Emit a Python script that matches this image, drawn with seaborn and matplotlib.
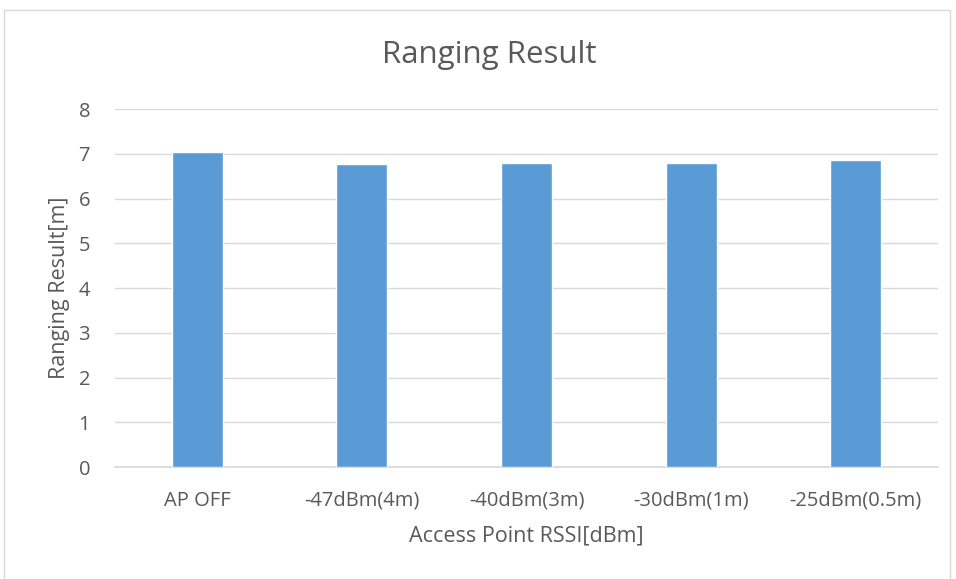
import matplotlib
matplotlib.use("Agg")
import matplotlib.pyplot as plt
import seaborn as sns
import pandas as pd
from matplotlib.patches import Rectangle

# data
categories = ["AP OFF", "-47dBm(4m)", "-40dBm(3m)", "-30dBm(1m)", "-25dBm(0.5m)"]
ranging = [7.03, 6.78, 6.80, 6.80, 6.87]
yticks = [0, 1, 2, 3, 4, 5, 6, 7, 8]

df = pd.DataFrame({"rssi": categories, "result": ranging})

sns.set_theme(style="white")
plt.rcParams["font.family"] = ["Open Sans", "DejaVu Sans"]
gray = "#595959"

fig = plt.figure(figsize=(9.56, 5.79), dpi=100)
ax = fig.add_axes([0.1203, 0.1934, 0.861, 0.6183])

sns.barplot(data=df, x="rssi", y="result", color="#5b9bd5", width=0.31,
            saturation=1, ax=ax, zorder=3)

ax.set_ylim(0, 8)
ax.set_yticks(yticks)
ax.set_xlim(-0.5, len(categories) - 0.5)
ax.yaxis.grid(True, color="#d9d9d9", linewidth=1, zorder=0)
for s in ["top", "right", "left"]:
    ax.spines[s].set_visible(False)
ax.spines["bottom"].set_color("#d9d9d9")
ax.tick_params(axis="both", length=0, labelsize=14.5, colors=gray)
ax.tick_params(axis="y", pad=18)
ax.tick_params(axis="x", pad=17)

ax.set_xlabel("Access Point RSSI[dBm]", fontsize=15.5, color=gray, labelpad=11)
ax.set_ylabel("Ranging Result[m]", fontsize=15.5, color=gray, labelpad=6)
fig.text(0.512, 0.905, "Ranging Result", ha="center", va="center",
         fontsize=22.5, color=gray)

# chart area border
fig.patches.append(Rectangle((4 / 956, -0.01), 946 / 956, 1 - 10 / 579 + 0.01,
                             transform=fig.transFigure, fill=False,
                             edgecolor="#d9d9d9", linewidth=1))

fig.savefig("out.png", dpi=100)
